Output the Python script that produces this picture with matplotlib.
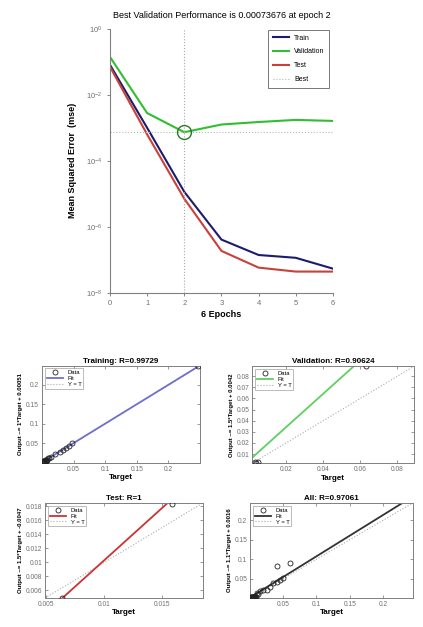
import matplotlib
matplotlib.use("Agg")
import matplotlib.pyplot as plt
import numpy as np

plt.rcParams['font.family'] = ['Liberation Sans', 'DejaVu Sans']

# ---- performance data ----
epochs = [0, 1, 2, 3, 4, 5, 6]
train_mse = [8.1e-2, 1.0e-3, 1.15e-5, 4.1e-7, 1.4e-7, 1.15e-7, 5.4e-8]
val_mse = [1.41e-1, 2.8e-3, 7.3676e-4, 1.26e-3, 1.5e-3, 1.74e-3, 1.62e-3]
test_mse = [7.1e-2, 6.3e-4, 7.1e-6, 1.86e-7, 5.8e-8, 4.4e-8, 4.4e-8]
best_epoch = 2
best_val = 7.3676e-4
perf_yticks = [1e-8, 1e-6, 1e-4, 1e-2, 1e0]

# ---- regression data ----
train_t = [0.001, 0.002, 0.002, 0.003, 0.004, 0.005, 0.006, 0.007, 0.008, 0.003, 0.004,
           0.006, 0.010, 0.012, 0.015, 0.020, 0.028, 0.033, 0.038, 0.043, 0.048, 0.247]
train_y = [0.002, 0.001, 0.003, 0.004, 0.003, 0.006, 0.005, 0.008, 0.007, 0.002, 0.005,
           0.004, 0.011, 0.013, 0.016, 0.022, 0.027, 0.034, 0.037, 0.044, 0.050, 0.249]
train_fit = (1.0, 0.00051)
train_R = "0.99729"

val_t = [0.003, 0.004, 0.005, 0.063]
val_y = [0.003, 0.002, 0.003, 0.089]
val_fit = (1.5, 0.0042)
val_R = "0.90624"

test_t = [0.0064, 0.0158]
test_y = [0.0049, 0.0183]
test_fit = (1.5, -0.0047)
test_R = "1"

all_t = [0.001, 0.001, 0.002, 0.002, 0.003, 0.003, 0.004, 0.005, 0.006, 0.007, 0.008, 0.009,
         0.004, 0.006, 0.008,
         0.010, 0.012, 0.015, 0.020, 0.025, 0.030, 0.035, 0.040, 0.045, 0.050, 0.040, 0.060]
all_y = [0.001, 0.002, 0.001, 0.003, 0.002, 0.004, 0.003, 0.002, 0.004, 0.003, 0.005, 0.004,
         0.001, 0.001, 0.002,
         0.012, 0.010, 0.018, 0.022, 0.020, 0.028, 0.038, 0.042, 0.046, 0.052, 0.083, 0.090]
all_fit = (1.06, 0.0016)
all_R = "0.97061"

fig = plt.figure(figsize=(4.23, 6.27), dpi=100)

# ================= performance plot =================
ax = fig.add_axes([0.260, 0.533, 0.527, 0.421])
ax.semilogy(epochs, train_mse, color='#1c1c6e', lw=1.5, label='Train')
ax.semilogy(epochs, val_mse, color='#2fbf2f', lw=1.5, label='Validation')
ax.semilogy(epochs, test_mse, color='#c8413a', lw=1.5, label='Test')
ax.axhline(best_val, color='#a8bfa8', lw=0.8, ls=':', label='Best')
ax.axvline(best_epoch, color='#a8a8a8', lw=0.8, ls=':')
ax.plot([best_epoch], [best_val], 'o', ms=10, mfc='none', mec='#2a7a2a', mew=1.0)
ax.set_xlim(0, 6)
ax.set_ylim(1e-8, 1e0)
ax.set_yticks(perf_yticks)
ax.minorticks_off()
ax.set_xticks(epochs)
for s in ['top', 'right']:
    ax.spines[s].set_visible(False)
for s in ['left', 'bottom']:
    ax.spines[s].set_color('#808080')
ax.tick_params(colors='#707070', labelsize=5.5, length=2, width=0.6)
ax.set_title('Best Validation Performance is 0.00073676 at epoch 2', fontsize=6.5, pad=8)
ax.set_xlabel('6 Epochs', fontsize=6.5, fontweight='bold', labelpad=2)
ax.set_ylabel('Mean Squared Error  (mse)', fontsize=6.5, fontweight='bold', labelpad=6)
leg = ax.legend(loc='upper right', fontsize=5, frameon=True, fancybox=False,
                edgecolor='#555555', handlelength=2.2, borderpad=0.7, labelspacing=1.0,
                bbox_to_anchor=(1.0, 1.01))
leg.get_frame().set_linewidth(0.7)


# ================= regression plots =================
def reg_plot(rect, t, y, fit, color, title, ylabel, lims, xticks, xtl, yticks, ytl):
    a = fig.add_axes(rect)
    xs = np.array(lims)
    a.plot(t, y, 'o', ms=3.6, mfc='none', mec='#222222', mew=0.6, label='Data', zorder=3)
    a.plot(xs, fit[0] * xs + fit[1], color=color, lw=1.3, label='Fit', zorder=2)
    a.plot(xs, xs, ':', color='#aaaaaa', lw=0.8, label='Y = T', zorder=1)
    a.set_xlim(lims)
    a.set_ylim(lims)
    a.set_xticks(xticks)
    a.set_xticklabels(xtl)
    a.set_yticks(yticks)
    a.set_yticklabels(ytl)
    for s in a.spines.values():
        s.set_color('#808080')
        s.set_linewidth(0.7)
    a.tick_params(colors='#707070', labelsize=4.8, length=2, width=0.5,
                  top=True, right=True, direction='in', pad=2)
    a.set_title(title, fontsize=5.8, fontweight='bold', pad=2)
    a.set_xlabel('Target', fontsize=5.8, fontweight='bold', labelpad=1)
    a.set_ylabel(ylabel, fontsize=4.3, fontweight='bold', labelpad=2)
    lg = a.legend(loc='upper left', fontsize=4.2, frameon=True, fancybox=False,
                  edgecolor='#888888', handlelength=2.8, borderpad=0.3, labelspacing=0.15,
                  handletextpad=0.8)
    lg.get_frame().set_linewidth(0.5)
    return a


reg_plot([0.099, 0.262, 0.374, 0.155], train_t, train_y, train_fit, '#6f6fcf',
         'Training: R=' + train_R, 'Output ~= 1*Target + 0.00051', (0.0, 0.25),
         [0.05, 0.1, 0.15, 0.2], ['0.05', '0.1', '0.15', '0.2'],
         [0.05, 0.1, 0.15, 0.2], ['0.05', '0.1', '0.15', '0.2'])

reg_plot([0.596, 0.261, 0.383, 0.155], val_t, val_y, val_fit, '#5fcf5f',
         'Validation: R=' + val_R, 'Output ~= 1.5*Target + 0.0042', (0.0017, 0.0890),
         [0.02, 0.04, 0.06, 0.08], ['0.02', '0.04', '0.06', '0.08'],
         [0.01, 0.02, 0.03, 0.04, 0.05, 0.06, 0.07, 0.08],
         ['0.01', '0.02', '0.03', '0.04', '0.05', '0.06', '0.07', '0.08'])

reg_plot([0.106, 0.046, 0.374, 0.152], test_t, test_y, test_fit, '#cc3333',
         'Test: R=' + test_R, 'Output ~= 1.5*Target + -0.0047', (0.0049, 0.0185),
         [0.005, 0.01, 0.015], ['0.005', '0.01', '0.015'],
         [0.006, 0.008, 0.01, 0.012, 0.014, 0.016, 0.018],
         ['0.006', '0.008', '0.01', '0.012', '0.014', '0.016', '0.018'])

reg_plot([0.591, 0.046, 0.385, 0.152], all_t, all_y, all_fit, '#333333',
         'All: R=' + all_R, 'Output ~= 1.1*Target + 0.0016', (0.0, 0.245),
         [0.05, 0.1, 0.15, 0.2], ['0.05', '0.1', '0.15', '0.2'],
         [0.05, 0.1, 0.15, 0.2], ['0.05', '0.1', '0.15', '0.2'])

fig.savefig('out.png', dpi=100)
